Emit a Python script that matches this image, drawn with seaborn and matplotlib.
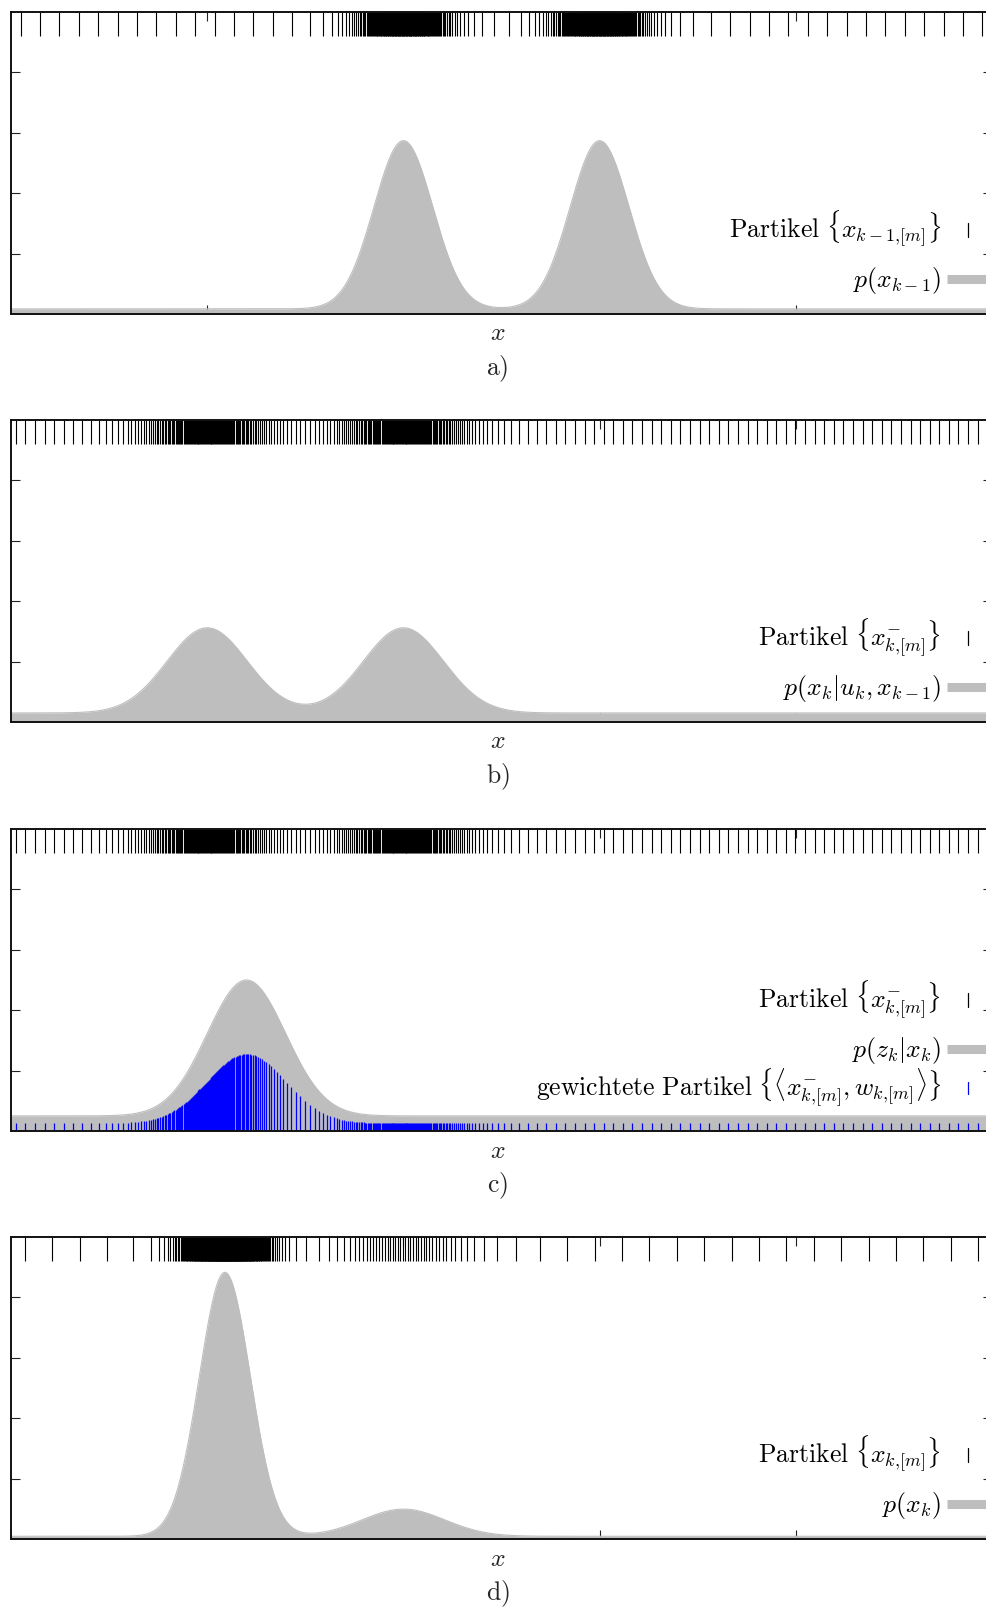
import numpy as np
import matplotlib
matplotlib.use('Agg')
import matplotlib.pyplot as plt
import seaborn as sns

# densities (x runs 0..10, y runs 0..1)
# a) p(x_{k-1})
a_means = [4.0, 6.0]
a_sigmas = [0.30, 0.30]
a_heights = [0.557, 0.557]
a_floor = 0.017

# b) p(x_k | u_k, x_{k-1})
b_means = [2.0, 4.0]
b_sigmas = [0.41, 0.41]
b_heights = [0.282, 0.282]
b_floor = 0.030

# c) p(z_k | x_k)
c_means = [2.4]
c_sigmas = [0.40]
c_heights = [0.45]
c_floor = 0.050
weight_peak = 0.255

# d) p(x_k)
d_means = [2.18, 4.0]
d_sigmas = [0.26, 0.42]
d_heights = [0.874, 0.09]
d_floor = 0.009

n_particles = 300

labels_a = [r'$\mathrm{Partikel}\ \{x_{k-1,\![m]}\}$', r'$p(x_{k-1})$']
labels_b = [r'$\mathrm{Partikel}\ \{x^{-}_{k,\![m]}\}$', r'$p(x_k|u_k, x_{k-1})$']
labels_c = [r'$\mathrm{Partikel}\ \{x^{-}_{k,\![m]}\}$', r'$p(z_k|x_k)$',
            r'$\mathrm{gewichtete\ Partikel}\ \{\langle x^{-}_{k,\![m]}, w_{k,\![m]}\rangle\}$']
labels_d = [r'$\mathrm{Partikel}\ \{x_{k,\![m]}\}$', r'$p(x_k)$']
captions = ['a)', 'b)', 'c)', 'd)']

grid = np.linspace(0, 10, 4001)


def density(means, sigmas, heights, floor):
    y = np.full_like(grid, floor)
    for m, s, h in zip(means, sigmas, heights):
        y = y + h * np.exp(-0.5 * ((grid - m) / s) ** 2)
    return y


def particles(dens):
    # deterministic particle set: quantiles of the density
    cdf = np.concatenate([[0], np.cumsum((dens[1:] + dens[:-1]) / 2 * np.diff(grid))])
    cdf /= cdf[-1]
    q = (np.arange(n_particles) + 0.5) / n_particles
    return np.interp(q, cdf, grid)


sns.set_theme(style='ticks')
plt.rcParams['mathtext.fontset'] = 'cm'
plt.rcParams['font.family'] = ['DejaVu Serif']

GREY = '#bebebe'
FW, FH = 986, 1609
fig = plt.figure(figsize=(FW / 100, FH / 100), dpi=100)

AX_L, AX_R, AX_H = 11, 992, 302
tops = [12, 420, 829, 1237]
FS = 18.5


def make_axes(top):
    ax = fig.add_axes([AX_L / FW, (FH - top - AX_H) / FH, (AX_R - AX_L) / FW, AX_H / FH])
    ax.set_xlim(0, 10)
    ax.set_ylim(0, 1)
    ax.set_xticks([2, 4, 6, 8])
    ax.set_yticks([0.2, 0.4, 0.6, 0.8])
    ax.tick_params(direction='in', length=6.5, width=0.8, color='#222222',
                   top=True, right=True, labelbottom=False, labelleft=False)
    ax.set_axisbelow(True)
    for sp in ax.spines.values():
        sp.set_linewidth(1.4)
        sp.set_color('#111111')
        sp.set_zorder(5)
    ax.set_xlabel('')
    ax.set_ylabel('')
    return ax


def draw_density(ax, dens):
    ax.fill_between(grid, 0, dens, color=GREY, lw=0, zorder=1)
    sns.lineplot(x=grid, y=dens, color=GREY, lw=0.8, ax=ax, zorder=1)


def draw_rug(ax, parts):
    ax.vlines(parts, 1 - 24 / AX_H, 1, color='black', lw=0.8, zorder=3)


def key(ax, labels, kinds, offsets):
    w = AX_R - AX_L
    xt = (941 - AX_L) / w
    xs = (968 - AX_L) / w
    for lab, kind, off in zip(labels, kinds, offsets):
        yc = 1 - off / AX_H
        ax.text(xt, yc - 8 / AX_H, lab, transform=ax.transAxes, ha='right', va='baseline',
                fontsize=FS, color='black')
        if kind == 'rug':
            ax.plot([xs, xs], [yc - 7 / AX_H, yc + 7 / AX_H], transform=ax.transAxes,
                    color='black', lw=0.9, clip_on=False)
        elif kind == 'blue':
            ax.plot([xs, xs], [yc - 6 / AX_H, yc + 6 / AX_H], transform=ax.transAxes,
                    color='#0000ff', lw=0.9, clip_on=False)
        else:
            ax.plot([(947 - AX_L) / w, 1.03], [yc, yc], transform=ax.transAxes,
                    color=GREY, lw=6.5, solid_capstyle='butt', clip_on=False)


dens_a = density(a_means, a_sigmas, a_heights, a_floor)
dens_b = density(b_means, b_sigmas, b_heights, b_floor)
dens_c = density(c_means, c_sigmas, c_heights, c_floor)
dens_d = density(d_means, d_sigmas, d_heights, d_floor)

parts_a = particles(dens_a)
parts_b = particles(dens_b)
parts_d = particles(dens_d)
lik_at_parts = np.interp(parts_b, grid, dens_c)
weights = lik_at_parts / dens_c.max() * weight_peak

# a)
ax = make_axes(tops[0])
draw_density(ax, dens_a)
draw_rug(ax, parts_a)
key(ax, labels_a, ['rug', 'bar'], [218, 267])

# b)
ax = make_axes(tops[1])
draw_density(ax, dens_b)
draw_rug(ax, parts_b)
key(ax, labels_b, ['rug', 'bar'], [218, 267])

# c)
ax = make_axes(tops[2])
draw_density(ax, dens_c)
draw_rug(ax, parts_b)
ax.vlines(parts_b, 0, weights, color='#0000ff', lw=0.9, zorder=2)
key(ax, labels_c, ['rug', 'bar', 'blue'], [171, 220, 259])

# d)
ax = make_axes(tops[3])
draw_density(ax, dens_d)
draw_rug(ax, parts_d)
key(ax, labels_d, ['rug', 'bar'], [218, 267])

for top, cap in zip(tops, captions):
    bottom = top + AX_H
    fig.text(497.5 / FW, 1 - (bottom + 19) / FH, r'$x$', ha='center', va='center', fontsize=FS)
    fig.text(497.5 / FW, 1 - (bottom + 55) / FH, r'$\mathrm{' + cap + '}$', ha='center',
             va='center', fontsize=FS)

fig.savefig('out.png', dpi=100)
